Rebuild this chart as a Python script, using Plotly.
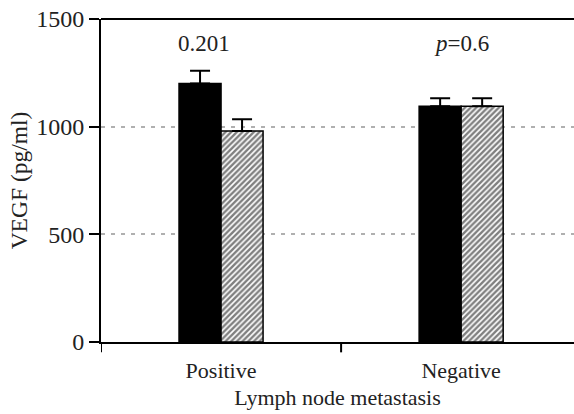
import plotly.graph_objects as go

categories = ["Positive", "Negative"]
series_a = [1200, 1095]
series_a_err = [60, 37]
series_b = [980, 1095]
series_b_err = [55, 37]
y_ticks = [0, 500, 1000, 1500]
p_labels = ["0.201", "<i>p</i>=0.6"]
p_label_y = [1385, 1385]

FONT = "Liberation Serif"
xpos = [0, 1]

fig = go.Figure()
fig.add_trace(go.Bar(
    x=xpos, y=series_a,
    marker=dict(color="black", line=dict(color="black", width=1.5)),
    error_y=dict(type="data", array=series_a_err, arrayminus=[0, 0], symmetric=False,
                 color="black", thickness=2, width=10),
    showlegend=False,
))
fig.add_trace(go.Bar(
    x=xpos, y=series_b,
    marker=dict(color="white", line=dict(color="black", width=1.5),
                pattern=dict(shape="/", fgcolor="black", bgcolor="white", size=4, solidity=0.6)),
    error_y=dict(type="data", array=series_b_err, arrayminus=[0, 0], symmetric=False,
                 color="black", thickness=2, width=10),
    showlegend=False,
))

for xv, txt, yv, xs in zip(xpos, p_labels, p_label_y, [-17, 0]):
    fig.add_annotation(x=xv, y=yv, text=txt, showarrow=False, xshift=xs,
                       font=dict(family=FONT, size=23, color="#222"))

fig.update_layout(
    width=574, height=414,
    margin=dict(l=101, r=0, t=19, b=72),
    paper_bgcolor="white", plot_bgcolor="white",
    barmode="group", bargap=0.65, bargroupgap=0,
    font=dict(family=FONT, size=22, color="#222"),
    xaxis=dict(
        range=[-0.5, 1.47], automargin=False,
        tickmode="array", tickvals=xpos, ticktext=categories,
        tickfont=dict(family=FONT, size=22),
        ticks="", showline=True, linecolor="black", linewidth=2,
        showgrid=False, zeroline=False,
        title=dict(text="Lymph node metastasis", font=dict(family=FONT, size=22), standoff=7),
        ticklabelstandoff=8,
    ),
    yaxis=dict(
        range=[0, 1500], automargin=False,
        tickmode="array", tickvals=y_ticks,
        tickfont=dict(family=FONT, size=24),
        ticks="outside", ticklen=10, tickwidth=2, tickcolor="black",
        ticklabeloverflow="allow",
        showline=True, linecolor="black", linewidth=2,
        showgrid=True, gridcolor="#b0b0b0", gridwidth=2, griddash="4px,6px",
        zeroline=False,
        title=dict(text="VEGF (pg/ml)", font=dict(family=FONT, size=23.5), standoff=2),
    ),
)

# top frame line
fig.add_shape(type="line", xref="paper", yref="paper", x0=0, x1=1, y0=1, y1=1,
              line=dict(color="black", width=2))
# x ticks at category boundaries
for xv in [-0.5, 0.5]:
    fig.add_shape(type="line", xref="x", yref="paper", x0=xv, x1=xv, y0=0, y1=-0.032,
                  line=dict(color="black", width=2))

fig.write_html("out.html", config={"displayModeBar": False},
               post_script="document.body.style.margin='0';")
